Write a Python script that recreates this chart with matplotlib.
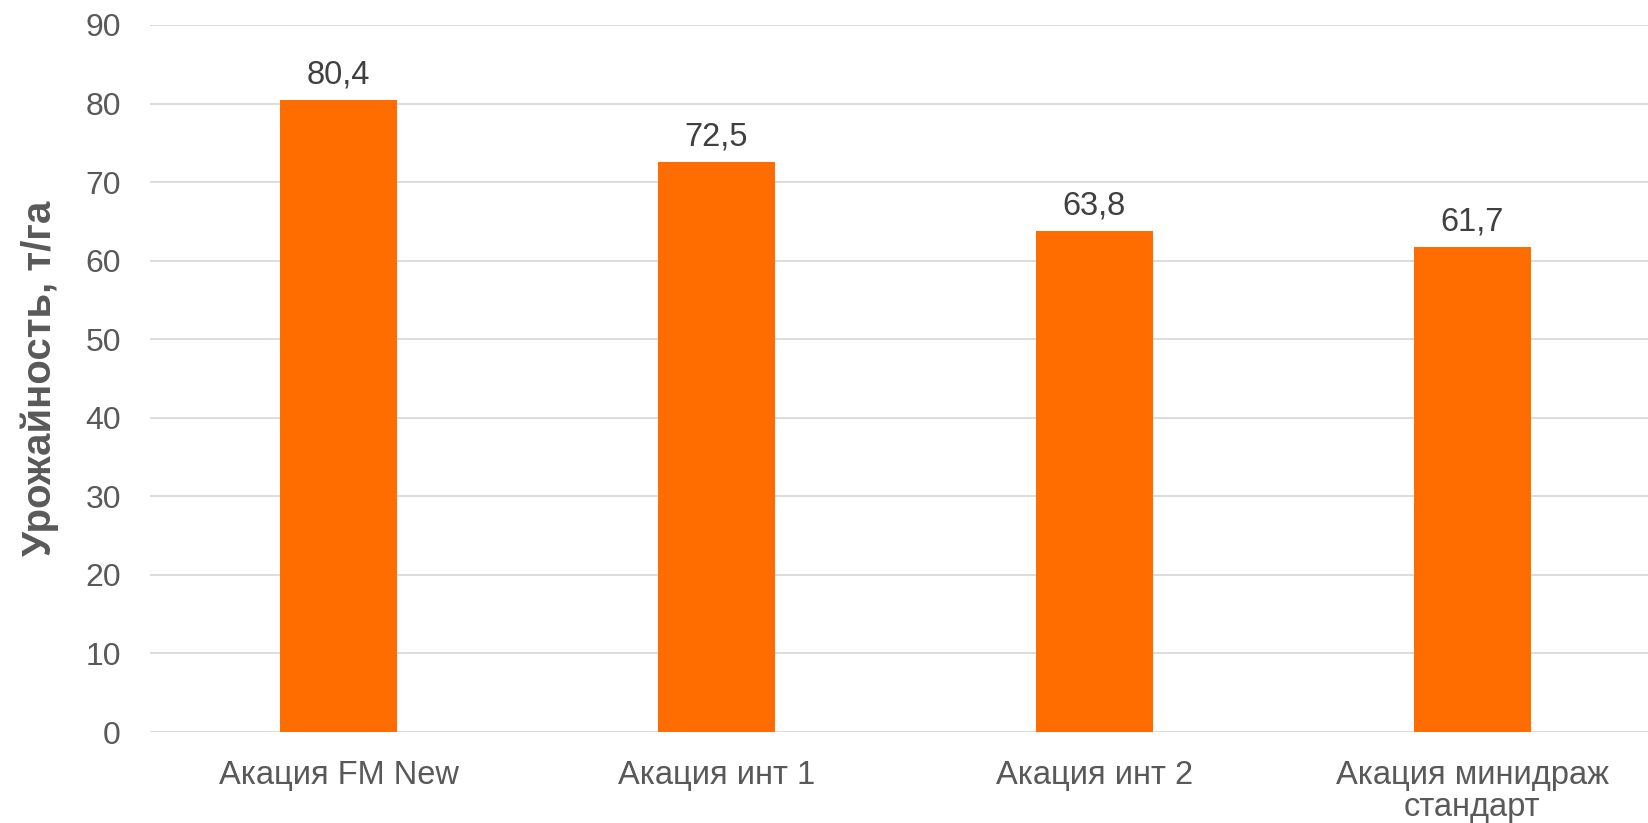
import matplotlib.pyplot as plt

plt.rcParams['font.family'] = ['Liberation Sans', 'DejaVu Sans']

# data
categories = ['Акация FM New', 'Акация инт 1', 'Акация инт 2', 'Акация минидраж\nстандарт']
values = [80.4, 72.5, 63.8, 61.7]
labels = ['80,4', '72,5', '63,8', '61,7']

fig = plt.figure(figsize=(16.48, 8.23), dpi=100)
# plot area runs slightly past the right edge, as in the original
ax = fig.add_axes([150 / 1648, 1 - 732 / 823, 1511 / 1648, 707 / 823])

x = range(len(categories))
bars = ax.bar(x, values, width=0.31, color='#FF6D00', zorder=3)

for b, lab in zip(bars, labels):
    ax.text(b.get_x() + b.get_width() / 2, b.get_height() + 2.1, lab,
            ha='center', va='baseline', fontsize=23.5, color='#404040')

ax.set_xlim(-0.5, 3.5)
ax.set_ylim(0, 90)
ax.set_yticks(range(0, 91, 10))
ax.yaxis.grid(True, color='#D9D9D9', linewidth=1.3, zorder=0)
ax.set_xticks(list(x))
ax.set_xticklabels(categories, fontsize=23.5, color='#595959', linespacing=1.05)
ax.tick_params(axis='y', labelsize=23, labelcolor='#595959', length=0, pad=21)
ax.tick_params(axis='x', length=0, pad=20)
for s in ax.spines.values():
    s.set_visible(False)

ax.set_ylabel('Урожайность, т/га', fontsize=29, fontweight='bold', color='#595959')
ax.yaxis.set_label_coords((59 - 150) / 1511, 0.5)

fig.savefig('out.png', dpi=100)
